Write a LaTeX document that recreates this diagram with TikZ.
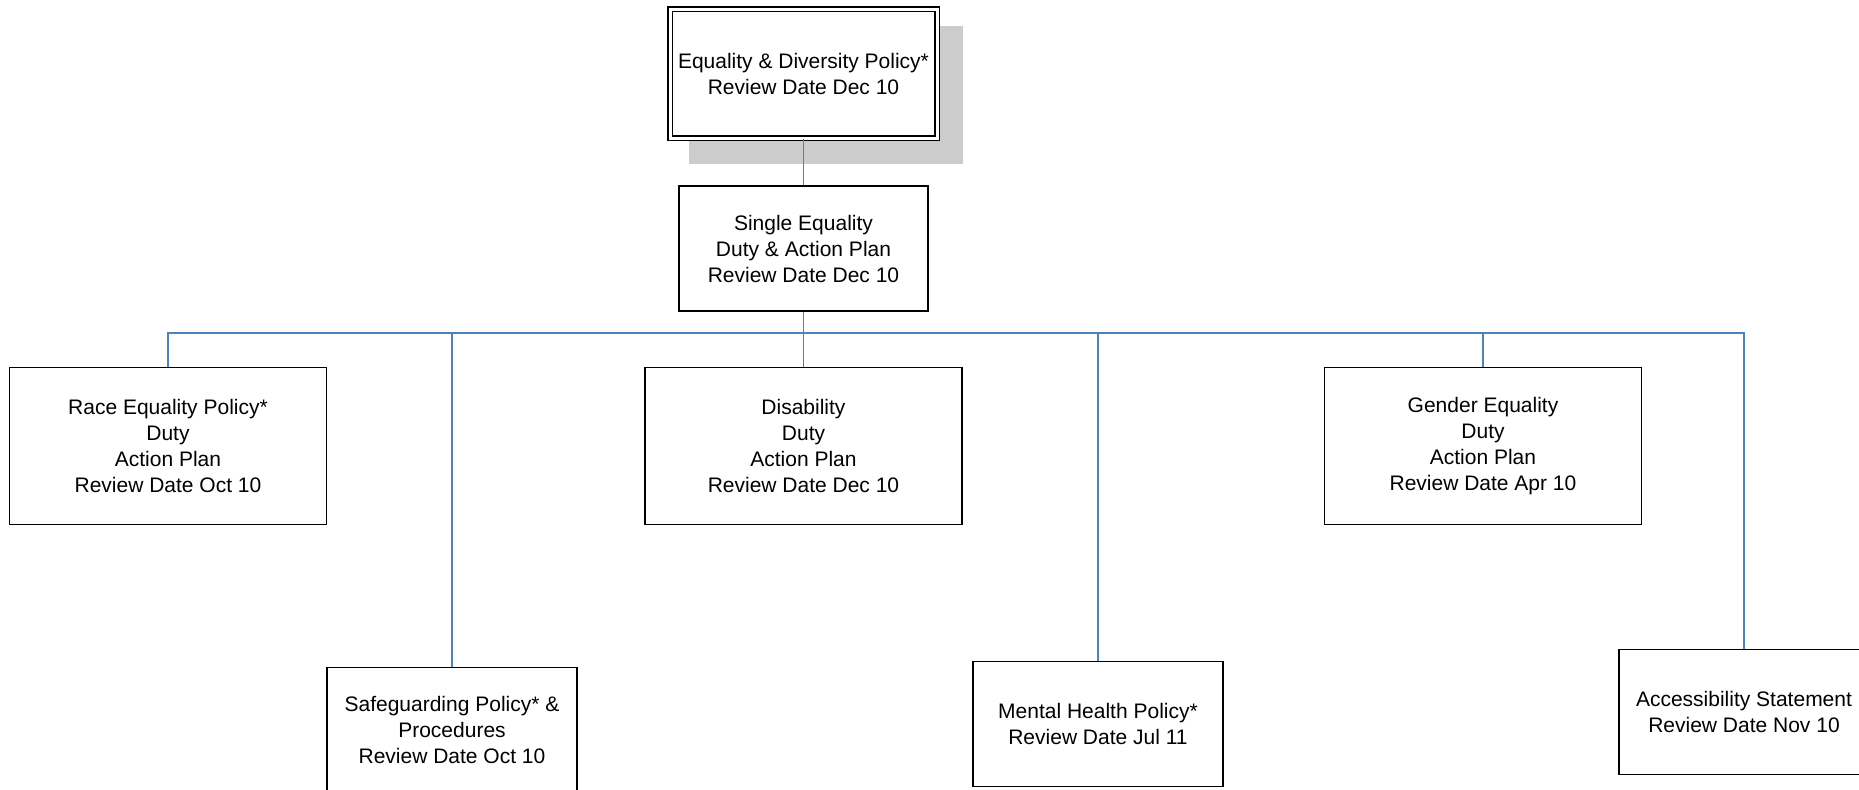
\documentclass[tikz,border=0pt]{standalone}
\usepackage{fontspec}
\setmainfont{Liberation Sans}
\usepackage{xcolor}
\usepackage{tikz}
\usetikzlibrary{positioning, calc}
\definecolor{linkblue}{HTML}{4F81BD}
\newcommand{\shadowcolor}{black!20}

\begin{document}
\begin{tikzpicture}[x=0.5pt, y=-0.5pt]
	\tikzstyle{policy}=[rectangle, draw=black, line width=0.9pt, align=center, inner sep=0pt, font=\fontsize{10.5}{13}\selectfont, minimum width=124.5pt, minimum height=62.5pt]
	\tikzstyle{duty}=[policy, minimum width=158.5pt, minimum height=78.5pt]
	\tikzstyle{link}=[draw=linkblue, line width=0.75pt]

	\useasboundingbox (0,0) rectangle (1859,789);

	% top policy with its shadow
	\fill[\shadowcolor] (689,26) rectangle (963,164);
	\node (p00) at (803.5,73.5) [policy, fill=white, double, line width=0.75pt, double distance=1.5pt, minimum width=133.5pt, minimum height=64.5pt]{Equality \& Diversity Policy*\\Review Date Dec 10};

	\node (p01) at (803.5,248.5) [policy]{Single Equality\\Duty \& Action Plan\\Review Date Dec 10};

	% duties
	\node (p11) at (168,446) [duty]{Race Equality Policy*\\Duty\\Action Plan\\Review Date Oct 10};
	\node (p13) at (803.5,446) [duty]{Disability\\Duty\\Action Plan\\Review Date Dec 10};
	\node (p15) at (1483,446) [duty]{Gender Equality\\Duty\\Action Plan\\Review Date Apr 10};

	% lower row
	\node (p12) at (452,730) [policy, minimum width=125pt]{Safeguarding Policy* \&\\Procedures\\Review Date Oct 10};
	\node (p14) at (1098,724) [policy, minimum width=125pt]{Mental Health Policy*\\Review Date Jul 11};
	\node (p16) at (1744,712) [policy, minimum width=125pt]{Accessibility Statement\\Review Date Nov 10};

	\coordinate (bus) at (0,333);

	\draw[link] (p00.south) -- (p01.north);
	\foreach \c in {p11,p12,p13,p14,p15,p16}
		\draw[link] (p01.south) -- (p01.south |- bus) -| (\c.north);
\end{tikzpicture}
\end{document}
